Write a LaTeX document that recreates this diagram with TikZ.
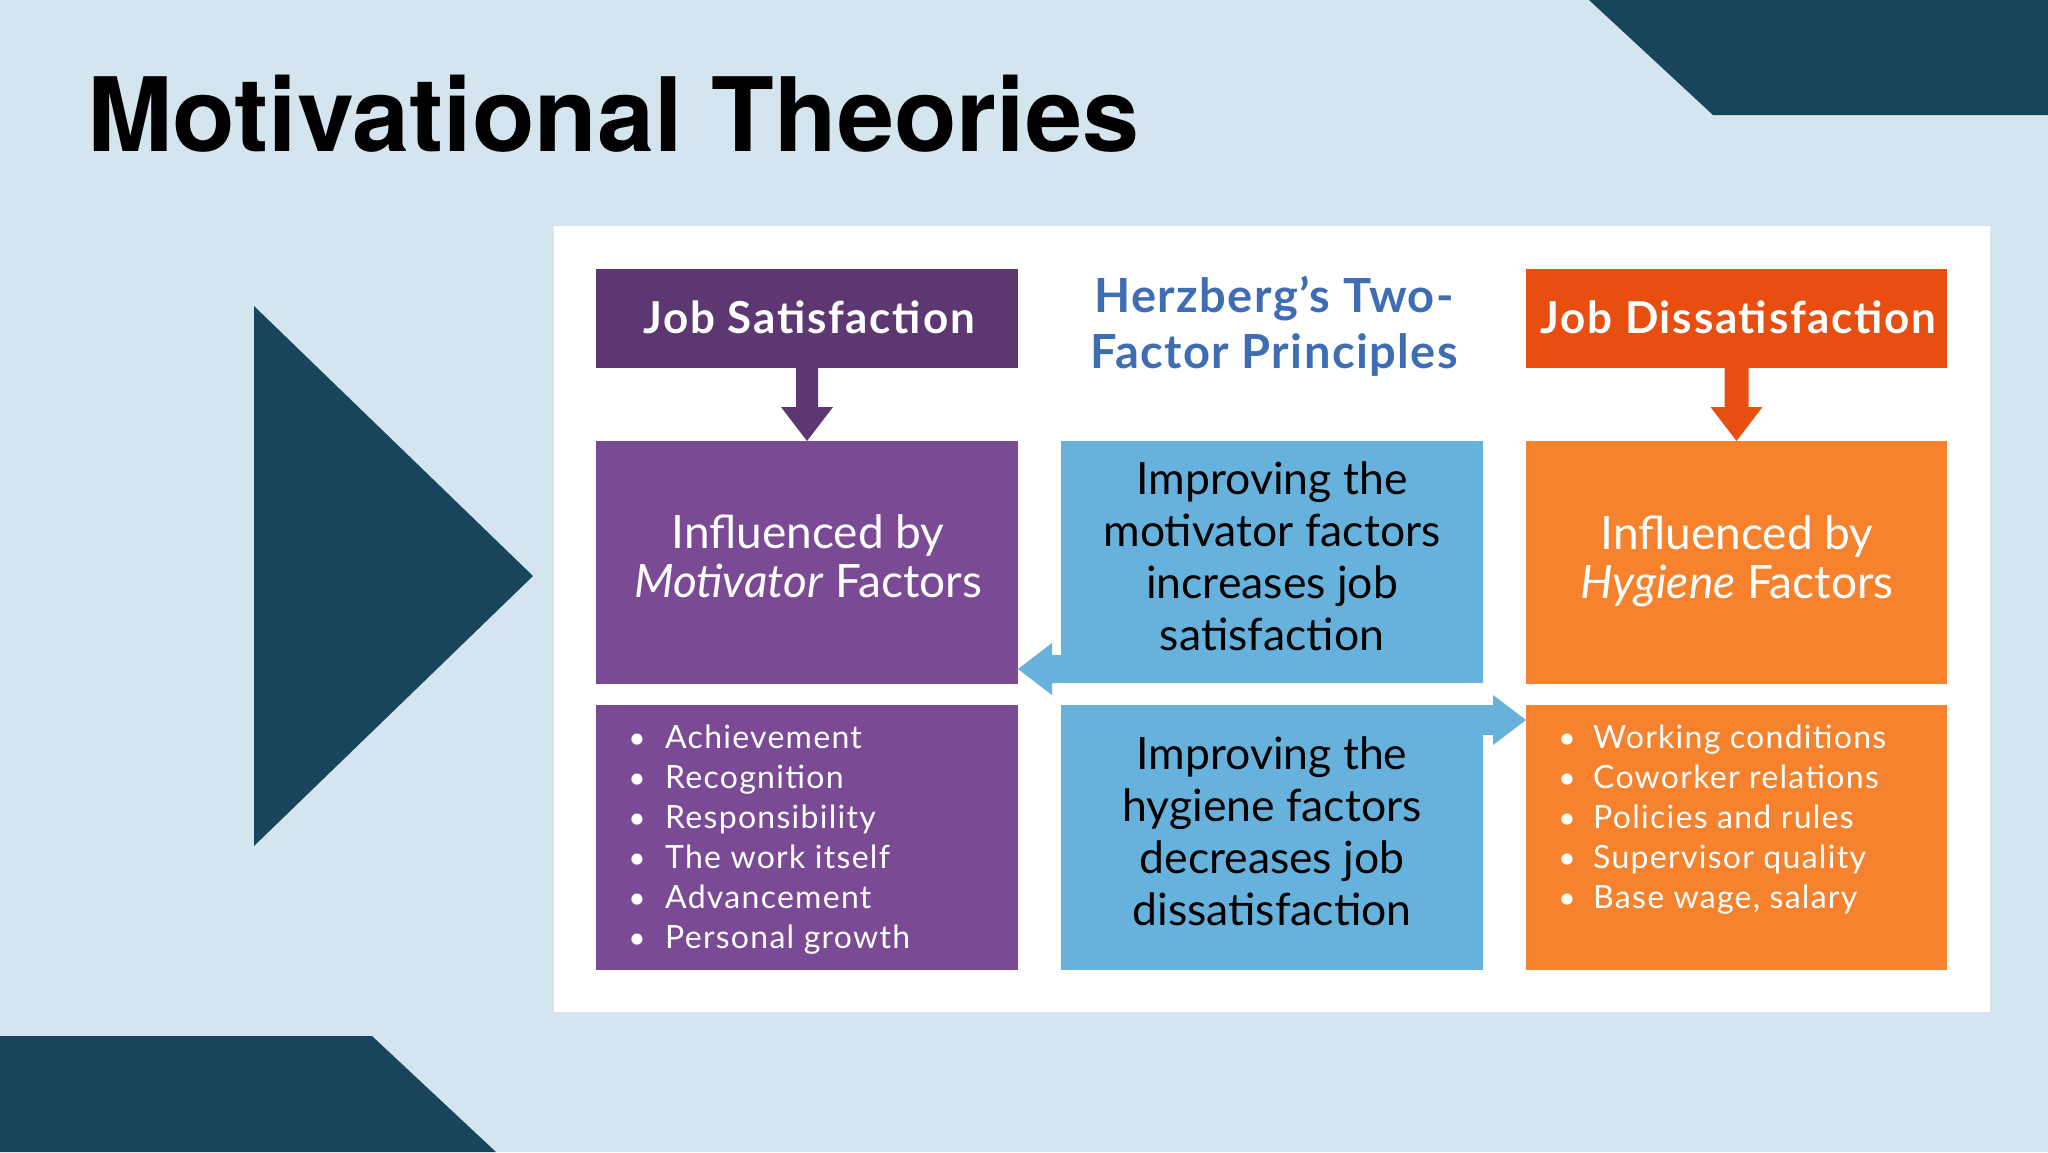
\documentclass[tikz,border=0pt]{standalone}
\usepackage{fontspec}
\setmainfont{Lato}
\newfontfamily\titlefont{TeX Gyre Heros}
\newfontfamily\hdfont[LetterSpace=4]{Lato}
\newfontfamily\herzfont[LetterSpace=3]{Lato}
\newfontfamily\listfont[LetterSpace=4]{Lato}
\usetikzlibrary{calc}
\definecolor{bgc}{HTML}{D4E5EF}
\definecolor{navy}{HTML}{18455B}
\definecolor{purdark}{HTML}{5C3771}
\definecolor{purc}{HTML}{7B4A95}
\definecolor{bluec}{HTML}{66B2DD}
\definecolor{bluetxt}{HTML}{3F6DB3}
\definecolor{orgdark}{HTML}{E84E0F}
\definecolor{orgc}{HTML}{F7822E}
\begin{document}
\begin{tikzpicture}[x=1pt,y=-1pt,
  box/.style={rectangle, inner sep=0pt, outer sep=0pt, minimum width=422, draw=none},
  headtxt/.style={font=\hdfont\bfseries\fontsize{44}{50}\selectfont, text=white, anchor=base, inner sep=0pt},
  inftxt/.style={font=\fontsize{46}{49}\selectfont, text=white, align=center, anchor=base, inner sep=0pt},
  bluetext/.style={font=\fontsize{44.5}{51.7}\selectfont, text=black, align=center, anchor=base, inner sep=0pt},
  listtxt/.style={font=\listfont\fontsize{32}{40}\selectfont, text=white, anchor=base west, inner sep=0pt},
  bullettxt/.style={font=\fontsize{30}{40}\selectfont, text=white, anchor=base, inner sep=0pt}]
\useasboundingbox (0,0) rectangle (2048,1152);
% background and decorations
\fill[bgc] (0,0) rectangle (2048,1152);
\fill[navy] (1589,0) -- (2048,0) -- (2048,115) -- (1713,115) -- cycle;
\fill[navy] (0,1036) -- (372,1036) -- (496,1152) -- (0,1152) -- cycle;
\fill[navy] (254,306) -- (533,576) -- (254,846) -- cycle;
% title
\node[font=\titlefont\bfseries\fontsize{102.6}{100}\selectfont, anchor=base west, inner sep=0pt] (title) at (87,151) {Motivational Theories};
% white panel
\fill[white] (554,226) rectangle (1990,1012);
% boxes
\node[box, fill=purdark, minimum height=99] (jsat) at (807,318.5) {};
\node[box, fill=orgdark, minimum height=99, minimum width=421] (jdis) at (1736.5,318.5) {};
\node[box, fill=purc, minimum height=243] (mot) at (807,562.5) {};
\node[box, fill=purc, minimum height=265] (motlist) at (807,837.5) {};
\node[box, fill=bluec, minimum height=242] (imp1) at (1272,562) {};
\node[box, fill=bluec, minimum height=265] (imp2) at (1272,837.5) {};
\node[box, fill=orgc, minimum height=243, minimum width=421] (hyg) at (1736.5,562.5) {};
\node[box, fill=orgc, minimum height=265, minimum width=421] (hyglist) at (1736.5,837.5) {};
% arrows
\fill[purdark] ($(jsat.south)+(-11,0)$) -- ($(mot.north)+(-11,-34)$) -- ($(mot.north)+(-26,-34)$) -- (mot.north) -- ($(mot.north)+(26,-34)$) -- ($(mot.north)+(11,-34)$) -- ($(jsat.south)+(11,0)$) -- cycle;
\fill[orgdark] ($(jdis.south)+(-12,0)$) -- ($(hyg.north)+(-12,-34)$) -- ($(hyg.north)+(-26,-34)$) -- (hyg.north) -- ($(hyg.north)+(26,-34)$) -- ($(hyg.north)+(12,-34)$) -- ($(jdis.south)+(12,0)$) -- cycle;
\path (imp1.south west) ++(0,-14) coordinate (la);
\fill[bluec] (imp1.south west) -- ++(-9,0) -- ++(0,12) -- (mot.east |- la) -- ($(imp1.south west)+(-9,-40)$) -- ++(0,12) -- ++(9,0) -- cycle;
\path (imp2.north east) ++(0,15) coordinate (ra);
\fill[bluec] (imp2.north east) -- ++(10,0) -- ++(0,-10) -- (hyglist.west |- ra) -- ($(imp2.north east)+(10,40)$) -- ++(0,-10) -- ++(-10,0) -- cycle;
% texts
\node[headtxt] (jsatt) at (809,333) {Job Satisfaction};
\node[headtxt] (jdist) at (1738.5,333) {Job Dissatisfaction};
\node[font=\herzfont\bfseries\fontsize{47}{56}\selectfont, text=bluetxt, align=center, anchor=base, inner sep=0pt] (herz) at (1274,368) {Herzberg’s Two-\\Factor Principles};
\node[inftxt] (mott) at (808,597) {Influenced by\\\textit{Motivator} Factors};
\node[inftxt] (hygt) at (1737,598) {Influenced by\\\textit{Hygiene} Factors};
\node[bluetext] (imp1t) at (1272,650) {Improving the\\motivator factors\\increases job\\satisfaction};
\node[bluetext] (imp2t) at (1272,925) {Improving the\\hygiene factors\\decreases job\\dissatisfaction};
\foreach \t [count=\i] in {Achievement, Recognition, Responsibility, The work itself, Advancement, Personal growth} {
  \node[bullettxt] (mb\i) at (637,708+40*\i) {•};
  \node[listtxt] (ml\i) at (665,708+40*\i) {\t};
}
\foreach \t [count=\i] in {Working conditions, Coworker relations, Policies and rules, Supervisor quality, {Base wage, salary}} {
  \node[bullettxt] (hb\i) at (1567,708+40*\i) {•};
  \node[listtxt] (hl\i) at (1593,708+40*\i) {\t};
}
\end{tikzpicture}
\end{document}
